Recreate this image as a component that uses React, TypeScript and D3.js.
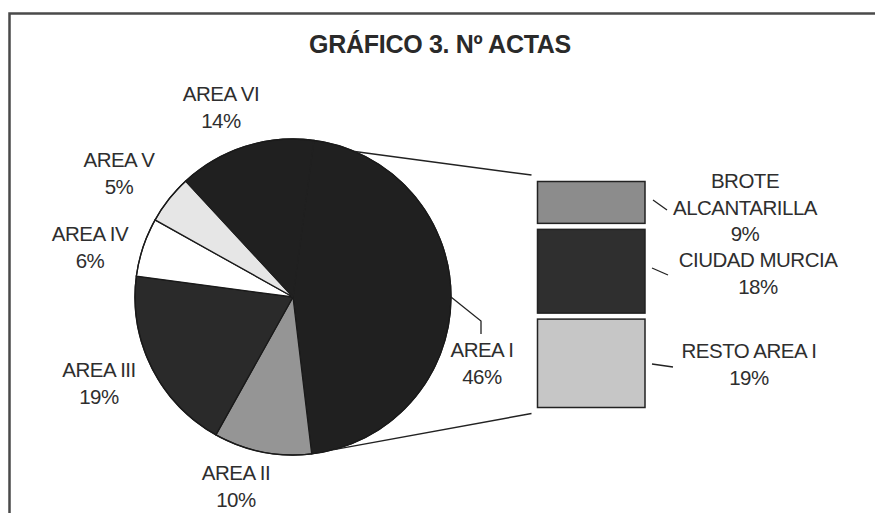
import React from "react";
import * as d3 from "d3";

const title = "GRÁFICO 3. Nº ACTAS";
const areas = ["AREA I", "AREA II", "AREA III", "AREA IV", "AREA V", "AREA VI"];
const areaPct = [46, 10, 19, 6, 5, 14];
const subCats = [["BROTE", "ALCANTARILLA"], ["CIUDAD MURCIA"], ["RESTO AREA I"]];
const subPct = [9, 18, 19];

// styling / layout (not data)
const areaFill = ["#202020", "#959595", "#2a2a2a", "#ffffff", "#e6e6e6", "#202020"];
const subFill = ["#8c8c8c", "#2f2f2f", "#c6c6c6"];
const areaLabelPos: [number, number][] = [
  [482, 357], [236, 480], [99, 377], [90, 241], [119, 167], [221, 101],
];

export default function App() {
  const W = 875, H = 513;
  const cx = 293, cy = 297, r = 158;
  const startDeg = 7.6;
  const toRad = (d: number) => (d * Math.PI) / 180;

  const pie = d3.pie<number>().sort(null).value((d) => d)
    .startAngle(toRad(startDeg)).endAngle(toRad(startDeg + 360));
  const arcs = pie(areaPct);
  const arcGen = d3.arc<d3.PieArcDatum<number>>().innerRadius(0).outerRadius(r);

  // bar of pie
  const barX0 = 537.5, barX1 = 645;
  const barTop = 181.5, barBottom = 407.5, gap = 6;
  const total = d3.sum(subPct);
  const cum = d3.cumsum(subPct);
  const y = d3.scaleLinear().domain([0, total]).range([barTop, barBottom - gap * (subPct.length - 1)]);
  const segs = subPct.map((v, i) => {
    const s = i === 0 ? 0 : cum[i - 1];
    const y0 = y(s) + gap * i;
    const y1 = y(s + v) + gap * i;
    return { y0, y1, v, i };
  });

  const pt = (deg: number) => [cx + r * Math.sin(toRad(deg)), cy - r * Math.cos(toRad(deg))];
  const topP = pt(23);
  const botP = pt(165);

  const font = "Liberation Sans, Arial, Helvetica, sans-serif";
  const txt = "#2e2e2e";
  const fs = 20.5;
  const lh = 26.5;

  const subLabel = [
    { x: 745, y: 188 },
    { x: 758, y: 267 },
    { x: 749, y: 358 },
  ];
  const subLeader = [
    [[653, 200], [667, 210]],
    [[652, 268], [668, 275]],
    [[652, 364], [673, 367]],
  ];

  const iPos = pt(90);

  return (
    <svg width={W} height={H} style={{ position: "absolute", left: 0, top: 0, background: "#fff" }}
      fontFamily={font}>
      <rect x={0} y={0} width={W} height={H} fill="#fff" />
      <path d={`M9.5,${H + 5} V13.5 H${W + 5}`} fill="none" stroke="#4a4a4a" strokeWidth={2.5} />
      <text x={440} y={53} textAnchor="middle" fontSize={25} fontWeight="bold" fill="#2a2a2a"
        letterSpacing={-0.3}>{title}</text>

      <g transform={`translate(${cx},${cy})`}>
        <circle r={r} fill="#202020" />
        {arcs.map((a, i) => (
          <path key={i} d={arcGen(a) || ""} fill={areaFill[i]}
            stroke={areaFill[i] === "#202020" ? "#202020" : "#1a1a1a"} strokeWidth={1.3} />
        ))}
        <circle r={r} fill="none" stroke="#1a1a1a" strokeWidth={1.3} />
      </g>

      {/* connectors */}
      <line x1={topP[0]} y1={topP[1]} x2={531.5} y2={175} stroke="#222" strokeWidth={1.5} />
      <line x1={botP[0]} y1={botP[1]} x2={531.5} y2={413.5} stroke="#222" strokeWidth={1.5} />

      {segs.map((s) => (
        <rect key={s.i} x={barX0} y={s.y0} width={barX1 - barX0} height={s.y1 - s.y0}
          fill={subFill[s.i]} stroke="#222" strokeWidth={1.5} />
      ))}

      {/* area labels */}
      {areas.map((name, i) => (
        <text key={name} x={areaLabelPos[i][0]} y={areaLabelPos[i][1]} textAnchor="middle"
          fontSize={fs} fill={txt} letterSpacing={-0.5}>
          <tspan x={areaLabelPos[i][0]}>{name}</tspan>
          <tspan x={areaLabelPos[i][0]} dy={lh}>{areaPct[i]}%</tspan>
        </text>
      ))}
      {/* AREA I leader */}
      <polyline points={`${iPos[0]},${iPos[1]} 481,321 481,334`} fill="none" stroke="#222" strokeWidth={1.3} />

      {/* sub labels */}
      {subCats.map((lines, i) => (
        <g key={i}>
          <text x={subLabel[i].x} y={subLabel[i].y} textAnchor="middle" fontSize={fs} fill={txt}
            letterSpacing={-0.5}>
            {lines.map((l, j) => (
              <tspan key={j} x={subLabel[i].x} dy={j === 0 ? 0 : lh}>{l}</tspan>
            ))}
            <tspan x={subLabel[i].x} dy={lh}>{subPct[i]}%</tspan>
          </text>
          <line x1={subLeader[i][0][0]} y1={subLeader[i][0][1]} x2={subLeader[i][1][0]} y2={subLeader[i][1][1]}
            stroke="#222" strokeWidth={1.3} />
        </g>
      ))}
    </svg>
  );
}
